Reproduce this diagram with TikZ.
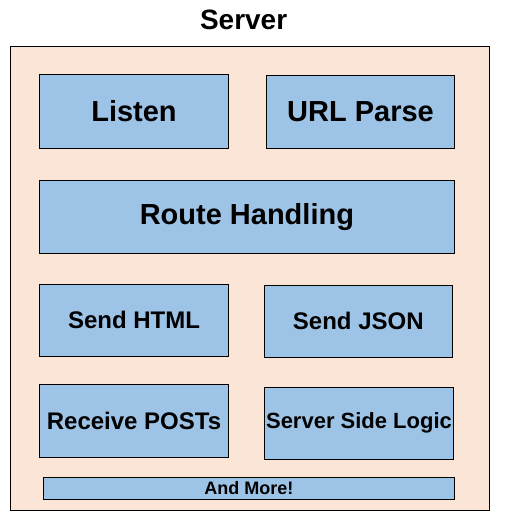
\documentclass[tikz,border=0pt]{standalone}
\usepackage{fontspec}
\setmainfont{Liberation Sans}
\usepackage{tikz}
\definecolor{peach}{HTML}{FBE5D6}
\definecolor{lblue}{HTML}{9DC3E6}
\tikzset{frame/.style={rectangle,draw,fill=peach,line width=1pt,inner sep=0pt}}
\tikzset{part/.style={rectangle,draw,fill=lblue,line width=1pt,inner sep=0pt,font=\bfseries}}
\newcommand{\fs}[1]{\fontsize{#1}{#1}\selectfont}
\begin{document}
\begin{tikzpicture}[x=1pt,y=-1pt]
    \useasboundingbox (0,0) rectangle (507,532);
    \node[frame,minimum width=478.5pt,minimum height=463pt] (srv) at (249.75,278.5) {};
    \node[font=\bfseries\fs{28}] (title) at (243.6,20) {Server};
    \node[part,minimum width=189pt,minimum height=73pt,font=\bfseries\fs{29}] (listen) at (134,111.5) {Listen};
    \node[part,minimum width=187.6pt,minimum height=73pt,font=\bfseries\fs{29}] (url) at (360.5,111.8) {URL Parse};
    \node[part,minimum width=414.8pt,minimum height=73pt,font=\bfseries\fs{29}] (route) at (246.9,216.8) {Route Handling};
    \node[part,minimum width=189pt,minimum height=71.7pt,font=\bfseries\fs{24}] (html) at (134,320.2) {Send HTML};
    \node[part,minimum width=188pt,minimum height=72.3pt,font=\bfseries\fs{24}] (json) at (358.3,321.2) {Send JSON};
    \node[part,minimum width=189pt,minimum height=73pt,font=\bfseries\fs{24}] (post) at (134,420.8) {Receive POSTs};
    \node[part,minimum width=189.4pt,minimum height=72pt,font=\bfseries\fs{22}] (logic) at (359,423.3) {Server Side Logic};
    \node[part,minimum width=411pt,minimum height=22pt,font=\bfseries\fs{18}] (more) at (248.8,488.3) {And More!};
  \end{tikzpicture}
\end{document}
